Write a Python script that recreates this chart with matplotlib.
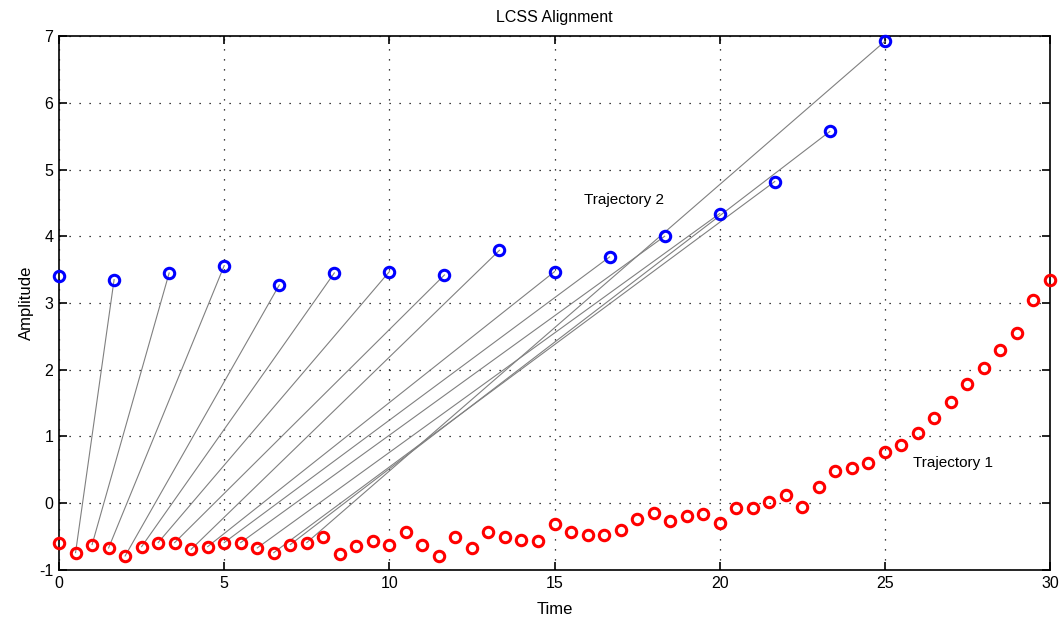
import matplotlib
matplotlib.use('Agg')
import matplotlib.pyplot as plt

plt.rcParams['font.family'] = ['Liberation Sans Narrow', 'Liberation Sans', 'DejaVu Sans']
plt.rcParams['axes.unicode_minus'] = False

# Trajectory 1: sampled every 0.5 time units
traj1_t = [i * 0.5 for i in range(61)]
traj1_y = [-0.60, -0.74, -0.62, -0.67, -0.79, -0.65, -0.59, -0.59, -0.69, -0.65,
           -0.59, -0.59, -0.67, -0.74, -0.62, -0.59, -0.50, -0.76, -0.64, -0.57,
           -0.62, -0.43, -0.62, -0.79, -0.50, -0.67, -0.43, -0.50, -0.55, -0.57,
           -0.31, -0.43, -0.47, -0.47, -0.40, -0.23, -0.14, -0.26, -0.19, -0.16,
           -0.29, -0.07, -0.07, 0.02, 0.12, -0.05, 0.25, 0.49, 0.53, 0.61,
           0.77, 0.87, 1.05, 1.27, 1.51, 1.79, 2.02, 2.29, 2.55, 3.05,
           3.35]

# Trajectory 2: sampled every 5/3 time units (shifted up for display)
traj2_t = [i * 5.0 / 3.0 for i in range(16)]
traj2_y = [3.40, 3.35, 3.45, 3.56, 3.27, 3.45, 3.47, 3.42, 3.79, 3.47,
           3.69, 4.00, 4.34, 4.82, 5.57, 6.92]

# matched index pairs (trajectory 1 index, trajectory 2 index)
match_1 = [1, 2, 3, 4, 5, 6, 7, 8, 9, 10, 11, 12, 13, 14, 15]
match_2 = [1, 2, 3, 4, 5, 6, 7, 8, 9, 10, 11, 12, 13, 14, 15]

fig = plt.figure(figsize=(10.62, 6.19), dpi=100)
ax = fig.add_axes([0.0556, 0.0792, 0.9331, 0.8626])

for i, j in zip(match_1, match_2):
    ax.plot([traj1_t[i], traj2_t[j]], [traj1_y[i], traj2_y[j]],
            color='#808080', linewidth=0.8, zorder=2)

ax.plot(traj1_t, traj1_y, 'o', color='red', mfc='none', mew=2.2,
        markersize=7.5, zorder=3, clip_on=False)
ax.plot(traj2_t, traj2_y, 'o', color='blue', mfc='none', mew=2.2,
        markersize=7.5, zorder=3, clip_on=False)

ax.text(15.9, 4.54, 'Trajectory 2', fontsize=11, va='center', ha='left')
ax.text(25.85, 0.6, 'Trajectory 1', fontsize=11, va='center', ha='left')

ax.set_xlim(0, 30)
ax.set_ylim(-1, 7)
ax.set_xticks(range(0, 31, 5))
ax.set_yticks(range(-1, 8))
ax.grid(True, color='black', linestyle=(0, (1, 7)), linewidth=0.9)
ax.tick_params(direction='in', length=6, width=1.2, top=True, right=True,
               labelsize=11.5, pad=4)
for spine in ax.spines.values():
    spine.set_linewidth(1.2)

ax.set_title('LCSS Alignment', fontsize=11.5, pad=10)
ax.set_xlabel('Time', fontsize=12, labelpad=8)
ax.set_ylabel('Amplitude', fontsize=12, labelpad=4)

fig.savefig('out.png', dpi=100)
